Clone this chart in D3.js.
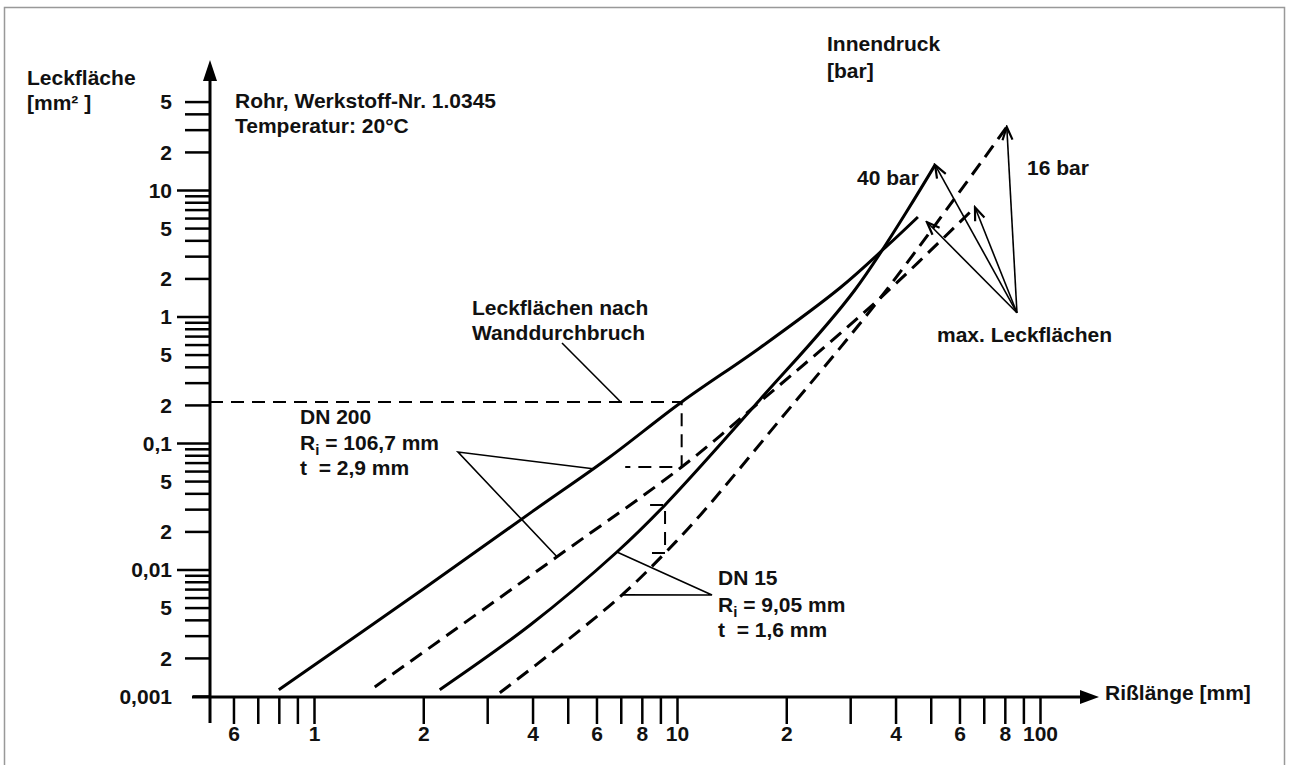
<!DOCTYPE html>
<html><head><meta charset="utf-8">
<script src="https://cdn.jsdelivr.net/npm/d3@7"></script>
<style>
body{margin:0;background:#fff}
text{font-family:"Liberation Sans",Arial,sans-serif;font-weight:bold;font-size:21px;fill:#111;white-space:pre}
</style></head><body>
<svg id="c" width="1290" height="765"></svg>
<script>
// ---- data (crack length [mm], leak area [mm²]) ----
const dn200Bar40X = [0.8, 2, 4, 6.5, 10.3, 16.9, 28.1, 37.9, 46.1];
const dn200Bar40Y = [0.00112, 0.0070, 0.0288, 0.0768, 0.211, 0.564, 1.68, 3.61, 6.12];
const dn200Bar16X = [1.47, 4.67, 10.3, 16.9, 36.3, 66.2];
const dn200Bar16Y = [0.00118, 0.0126, 0.0646, 0.211, 1.40, 7.3];
const dn15Bar40X = [2.22, 3.94, 6.83, 9.27, 16.9, 30.9, 51.4];
const dn15Bar40Y = [0.00112, 0.00364, 0.01375, 0.0324, 0.219, 1.62, 15.8];
const dn15Bar16X = [3.25, 4.76, 7.06, 9.15, 11.6, 19.2, 36.3, 81];
const dn15Bar16Y = [0.00106, 0.00248, 0.0063, 0.013, 0.027, 0.152, 1.40, 31.5];

// max leak area arrow targets and origin
const maxTargetsX = [48.8, 51.4, 66.2, 81];
const maxTargetsY = [5.58, 15.8, 7.3, 31.5];
const maxOrigin = [86.4, 1.07];

// construction reading points
const cx200 = 10.3, cx200Left = 7.2;
const cx15 = 9.27, cx15Left = 8.43;

// ticks
const xLabelValues = [0.6, 1, 2, 4, 6, 8, 10, 20, 40, 60, 80, 100];
const xLabelTexts = ["6", "1", "2", "4", "6", "8", "10", "2", "4", "6", "8", "100"];
const xMinorValues = [0.7, 0.8, 0.9, 3, 5, 7, 9, 30, 50, 70, 90];
const yLabelValues = [0.001, 0.002, 0.005, 0.01, 0.02, 0.05, 0.1, 0.2, 0.5, 1, 2, 5, 10, 20, 50];
const yLabelTexts = ["0,001", "2", "5", "0,01", "2", "5", "0,1", "2", "5", "1", "2", "5", "10", "2", "5"];
const yMinorValues = [0.003, 0.004, 0.006, 0.007, 0.008, 0.009, 0.03, 0.04, 0.06, 0.07, 0.08, 0.09,
  0.3, 0.4, 0.6, 0.7, 0.8, 0.9, 3, 4, 6, 7, 8, 9, 30, 40];
const yDecades = [0.01, 0.1, 1, 10];

// ---- drawing ----
const svg = d3.select("#c");
const x = d3.scaleLog().domain([1, 100]).range([314, 1040]);
const y = d3.scaleLog().domain([0.001, 100]).range([696, 63.5]);
const X0 = 210, Y0 = 697;

svg.append("rect").attr("x", 4.5).attr("y", 7.5).attr("width", 1280).attr("height", 775)
  .attr("fill", "none").attr("stroke", "#999").attr("stroke-width", 1.5);

const defs = svg.append("defs");
defs.append("marker").attr("id", "ah").attr("viewBox", "-15 -8 17 16").attr("refX", 0).attr("refY", 0)
  .attr("markerWidth", 17).attr("markerHeight", 16).attr("markerUnits", "userSpaceOnUse").attr("orient", "auto")
  .append("path").attr("d", "M-13,-5 L0,0 L-13,5").attr("fill", "none").attr("stroke", "#000").attr("stroke-width", 2.2);

// x axis
const xAxis = d3.axisBottom(x)
  .tickValues(xLabelValues.concat(xMinorValues))
  .tickFormat(d => { const i = xLabelValues.indexOf(d); return i >= 0 ? xLabelTexts[i] : ""; })
  .tickSize(27).tickPadding(2);
const gx = svg.append("g").attr("transform", `translate(0,${Y0})`).call(xAxis);
gx.select(".domain").remove();
gx.attr("font-family", null).attr("font-size", null);
gx.selectAll(".tick line").attr("stroke", "#000").attr("stroke-width", 2.5);
gx.selectAll(".tick text").attr("fill", "#111");

// y axis
const yAxis = d3.axisLeft(y)
  .tickValues(yLabelValues.concat(yMinorValues))
  .tickFormat(d => { const i = yLabelValues.indexOf(d); return i >= 0 ? yLabelTexts[i] : ""; })
  .tickSize(25).tickPadding(13);
const gy = svg.append("g").attr("transform", `translate(${X0},0)`).call(yAxis);
gy.select(".domain").remove();
gy.attr("font-family", null).attr("font-size", null);
gy.selectAll(".tick line").attr("stroke", "#000").attr("stroke-width", 2.5)
  .attr("x2", d => yDecades.includes(d) ? -33 : (d === 0.001 ? -17 : -25));
gy.selectAll(".tick text").attr("fill", "#111").attr("dy", "0.35em");

// axis lines with arrows
svg.append("line").attr("x1", 192).attr("x2", 1085).attr("y1", Y0).attr("y2", Y0)
  .attr("stroke", "#000").attr("stroke-width", 3);
svg.append("path").attr("d", `M1080,${Y0 - 7}L1099,${Y0}L1080,${Y0 + 7}Z`).attr("fill", "#000");
svg.append("line").attr("x1", X0).attr("x2", X0).attr("y1", 723).attr("y2", 75)
  .attr("stroke", "#000").attr("stroke-width", 3);
svg.append("path").attr("d", `M${X0 - 7},81L${X0},60L${X0 + 7},81Z`).attr("fill", "#000");

// curves
const zip = (a, b) => a.map((v, i) => [v, b[i]]);
const curves = [
  { pts: zip(dn200Bar40X, dn200Bar40Y), dash: null },
  { pts: zip(dn200Bar16X, dn200Bar16Y), dash: "14,8" },
  { pts: zip(dn15Bar40X, dn15Bar40Y), dash: null },
  { pts: zip(dn15Bar16X, dn15Bar16Y), dash: "14,8" }
];
const line = d3.line().x(d => x(d[0])).y(d => y(d[1])).curve(d3.curveCatmullRom.alpha(0.5));
svg.selectAll("path.curve").data(curves).enter().append("path").attr("class", "curve")
  .attr("d", d => line(d.pts)).attr("fill", "none").attr("stroke", "#000").attr("stroke-width", 3)
  .attr("stroke-dasharray", d => d.dash);

// log-log interpolation on a curve
function onCurve(pts, xv) {
  for (let i = 0; i < pts.length - 1; i++) {
    const [x1, y1] = pts[i], [x2, y2] = pts[i + 1];
    if (xv >= x1 && xv <= x2) {
      const t = (Math.log(xv) - Math.log(x1)) / (Math.log(x2) - Math.log(x1));
      return Math.exp(Math.log(y1) + t * (Math.log(y2) - Math.log(y1)));
    }
  }
  return pts[pts.length - 1][1];
}

// construction lines
const cons = svg.append("g").attr("fill", "none").attr("stroke", "#000").attr("stroke-width", 2).attr("stroke-dasharray", "13,8");
const a200 = onCurve(curves[0].pts, cx200), b200 = onCurve(curves[1].pts, cx200);
cons.append("path").attr("d", `M${X0},${y(a200)}H${x(cx200)}V${y(b200)}H${x(cx200Left)}`);
const a15 = onCurve(curves[2].pts, cx15), b15 = onCurve(curves[3].pts, cx15);
cons.append("path").attr("d", `M${x(cx15Left)},${y(a15)}H${x(cx15)}V${y(b15)}H${x(cx15Left)}`);

// pointer lines
const ptr = svg.append("g").attr("fill", "none").attr("stroke", "#000").attr("stroke-width", 1.6);
ptr.append("line").attr("x1", 562).attr("y1", 343).attr("x2", x(7)).attr("y2", y(a200));
const o200 = [458, 452];
ptr.append("path").attr("d", `M${x(5.87)},${y(onCurve(curves[0].pts, 5.87))}L${o200[0]},${o200[1]}L${x(4.67)},${y(onCurve(curves[1].pts, 4.67))}`);
const o15 = [712, 595];
ptr.append("path").attr("d", `M${x(6.83)},${y(onCurve(curves[2].pts, 6.83))}L${o15[0]},${o15[1]}L${x(7.06)},${y(onCurve(curves[3].pts, 7.06))}`);

// max leak area arrows
const arr = svg.append("g").attr("stroke", "#000").attr("stroke-width", 1.6);
maxTargetsX.forEach((tx, i) => {
  arr.append("line").attr("x1", x(maxOrigin[0])).attr("y1", y(maxOrigin[1]))
    .attr("x2", x(tx)).attr("y2", y(maxTargetsY[i])).attr("marker-end", "url(#ah)");
});

// texts
const T = (s, px, py) => svg.append("text").attr("x", px).attr("y", py).attr("dy", "0.35em").text(s);
T("Leckfläche", 27, 78);
T("[mm² ]", 27, 103);
T("Rohr, Werkstoff-Nr. 1.0345", 235, 101);
T("Temperatur: 20°C", 235, 126);
T("Innendruck", 827, 44);
T("[bar]", 827, 71);
T("40 bar", 857, 178);
T("16 bar", 1027, 168);
T("max. Leckflächen", 937, 335);
T("Leckflächen nach", 472, 308);
T("Wanddurchbruch", 472, 333);
T("DN 200", 300, 417);
function Ri(s, px, py) {
  const t = svg.append("text").attr("x", px).attr("y", py).attr("dy", "0.35em");
  t.append("tspan").text("R");
  t.append("tspan").attr("dy", 5).style("font-size", "15px").text("i");
  t.append("tspan").attr("dy", -5).text(s);
}
Ri(" = 106,7 mm", 300, 443);
T("t  = 2,9 mm", 300, 468);
T("DN 15", 718, 578);
Ri(" = 9,05 mm", 718, 605);
T("t  = 1,6 mm", 718, 630);
T("Rißlänge [mm]", 1105, 693);
</script>
</body></html>
